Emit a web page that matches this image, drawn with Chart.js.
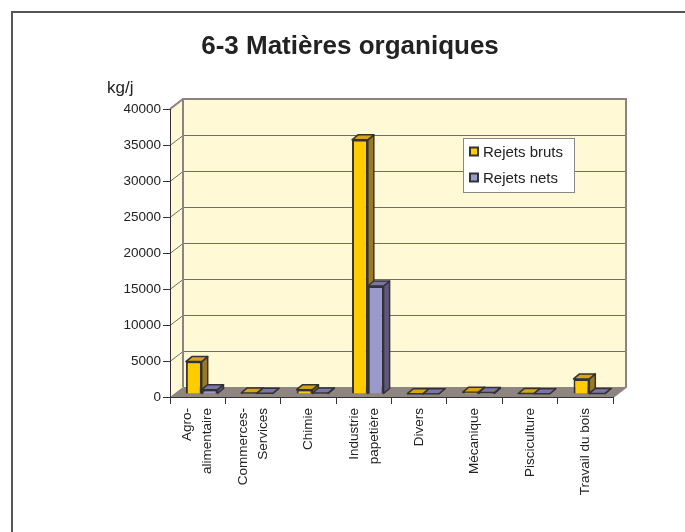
<!DOCTYPE html>
<html>
<head>
<meta charset="utf-8">
<script src="https://cdn.jsdelivr.net/npm/chart.js@4"></script>
<style>
  body { margin: 0; background: #fff; }
  canvas { display: block; }
</style>
</head>
<body>
<canvas id="chart" width="685" height="532"></canvas>
<script>
// données (kg/j)
const categories = [["Agro-", "alimentaire"], ["Commerces-", "Services"], "Chimie", ["Industrie", "papetière"], "Divers", "Mécanique", "Pisciculture", "Travail du bois"];
const rejetsBruts = [4500, 150, 600, 35300, 50, 250, 60, 2100];
const rejetsNets = [600, 100, 150, 15000, 30, 200, 40, 80];
const seriesNames = ["Rejets bruts", "Rejets nets"];
const yMax = 40000;
const yStep = 5000;

const fontFamily = "'Liberation Sans', Arial, sans-serif";

// couleurs des faces (avant, côté, dessus)
const faceColors = [
    { front: "#FFCC00", side: "#9C7A24", top: "#D6A514" },
    { front: "#9999CC", side: "#5F5782", top: "#7C74A8" }
];

// profondeur 3D
const wallDX = 13, wallDY = -10;
const barShiftX = 4, barShiftY = -3;
const barDX = 6, barDY = -5;

const threeD = {
    id: "threeD",
    beforeDraw(chart) {
        const ctx = chart.ctx;
        const a = chart.chartArea;
        const y = chart.scales.y;

        ctx.save();
        // cadre extérieur
        ctx.strokeStyle = "#555";
        ctx.lineWidth = 2;
        ctx.beginPath();
        ctx.moveTo(12, 540);
        ctx.lineTo(12, 12);
        ctx.lineTo(700, 12);
        ctx.stroke();

        // murs
        ctx.fillStyle = "#FFF9D6";
        ctx.beginPath();
        ctx.moveTo(a.left, a.top);
        ctx.lineTo(a.left + wallDX, a.top + wallDY);
        ctx.lineTo(a.right + wallDX, a.top + wallDY);
        ctx.lineTo(a.right + wallDX, a.bottom + wallDY);
        ctx.lineTo(a.left, a.bottom);
        ctx.closePath();
        ctx.fill();

        // sol
        ctx.fillStyle = "#8E8580";
        ctx.beginPath();
        ctx.moveTo(a.left, a.bottom);
        ctx.lineTo(a.left + wallDX, a.bottom + wallDY);
        ctx.lineTo(a.right + wallDX, a.bottom + wallDY);
        ctx.lineTo(a.right, a.bottom);
        ctx.closePath();
        ctx.fill();

        // quadrillage
        ctx.strokeStyle = "#6E6E6E";
        ctx.lineWidth = 1;
        for (let v = yStep; v < yMax; v += yStep) {
            const py = Math.round(y.getPixelForValue(v)) + 0.5;
            ctx.beginPath();
            ctx.moveTo(a.left, py);
            ctx.lineTo(a.left + wallDX, py + wallDY);
            ctx.lineTo(a.right + wallDX, py + wallDY);
            ctx.stroke();
        }

        // bords des murs
        ctx.strokeStyle = "#8C8280";
        ctx.lineWidth = 2;
        ctx.beginPath();
        ctx.moveTo(a.left, a.top);
        ctx.lineTo(a.left + wallDX, a.top + wallDY);
        ctx.lineTo(a.right + wallDX, a.top + wallDY);
        ctx.lineTo(a.right + wallDX, a.bottom + wallDY);
        ctx.lineTo(a.right, a.bottom);
        ctx.moveTo(a.left + wallDX, a.top + wallDY);
        ctx.lineTo(a.left + wallDX, a.bottom + wallDY);
        ctx.stroke();
        ctx.restore();
    },
    beforeDatasetsDraw(chart) {
        const ctx = chart.ctx;
        ctx.save();
        ctx.translate(barShiftX, barShiftY);
        // faces de côté et du dessus, dessinées avant les faces avant
        chart.data.datasets.forEach((ds, i) => {
            const meta = chart.getDatasetMeta(i);
            meta.data.forEach(bar => {
                const p = bar.getProps(["x", "y", "base", "width"], true);
                const l = p.x - p.width / 2, r = p.x + p.width / 2;
                ctx.strokeStyle = "#333";
                ctx.lineWidth = 1.5;
                ctx.lineJoin = "round";
                ctx.fillStyle = faceColors[i].side;
                ctx.beginPath();
                ctx.moveTo(r, p.y);
                ctx.lineTo(r + barDX, p.y + barDY);
                ctx.lineTo(r + barDX, p.base + barDY);
                ctx.lineTo(r, p.base);
                ctx.closePath();
                ctx.fill();
                ctx.stroke();
                ctx.fillStyle = faceColors[i].top;
                ctx.beginPath();
                ctx.moveTo(l, p.y);
                ctx.lineTo(l + barDX, p.y + barDY);
                ctx.lineTo(r + barDX, p.y + barDY);
                ctx.lineTo(r, p.y);
                ctx.closePath();
                ctx.fill();
                ctx.stroke();
            });
        });
    },
    afterDatasetsDraw(chart) {
        chart.ctx.restore();
    },
    afterDraw(chart) {
        const ctx = chart.ctx;
        const x = chart.scales.x;
        ctx.save();
        // titre
        ctx.fillStyle = "#222";
        ctx.font = "bold 26px " + fontFamily;
        ctx.textAlign = "center";
        ctx.textBaseline = "middle";
        ctx.fillText("6-3 Matières organiques", 350, 47);
        // unité
        ctx.font = "17px " + fontFamily;
        ctx.textAlign = "left";
        ctx.fillText("kg/j", 107, 88);

        // libellés des catégories, verticaux et centrés
        ctx.font = "13.5px " + fontFamily;
        ctx.textAlign = "right";
        categories.forEach((cat, i) => {
            const lines = Array.isArray(cat) ? cat : [cat];
            ctx.save();
            ctx.translate(x.getPixelForValue(i), 408);
            ctx.rotate(-Math.PI / 2);
            lines.forEach((line, j) => {
                ctx.fillText(line, 0, (j - (lines.length - 1) / 2) * 20);
            });
            ctx.restore();
        });

        // légende
        const lx = 463, ly = 138, lw = 111, lh = 54;
        ctx.fillStyle = "#fff";
        ctx.fillRect(lx, ly, lw, lh);
        ctx.strokeStyle = "#888";
        ctx.lineWidth = 1;
        ctx.strokeRect(lx + 0.5, ly + 0.5, lw, lh);
        ctx.font = "15px " + fontFamily;
        ctx.textAlign = "left";
        chart.data.datasets.forEach((ds, i) => {
            const cy = ly + 14 + i * 26;
            ctx.fillStyle = ds.backgroundColor;
            ctx.fillRect(lx + 7, cy - 4.5, 8, 8);
            ctx.strokeStyle = "#333";
            ctx.lineWidth = 2;
            ctx.strokeRect(lx + 7, cy - 4.5, 8, 8);
            ctx.fillStyle = "#222";
            ctx.fillText(ds.label, lx + 20, cy + 1);
        });
        ctx.restore();
    }
};

new Chart(document.getElementById("chart"), {
    type: "bar",
    data: {
        labels: categories,
        datasets: [
            {
                label: seriesNames[0],
                data: rejetsBruts,
                backgroundColor: faceColors[0].front,
                borderColor: "#333",
                borderWidth: 2
            },
            {
                label: seriesNames[1],
                data: rejetsNets,
                backgroundColor: faceColors[1].front,
                borderColor: "#333",
                borderWidth: 2
            }
        ]
    },
    options: {
        responsive: false,
        animation: false,
        layout: { padding: { left: 100, right: 72, top: 109, bottom: 15 } },
        datasets: { bar: { categoryPercentage: 0.57, barPercentage: 1 } },
        plugins: {
            legend: { display: false },
            title: { display: false },
            tooltip: { enabled: false }
        },
        scales: {
            x: {
                afterFit: scale => { scale.height = 120; },
                grid: { drawOnChartArea: false, drawTicks: true, tickLength: 7, color: "#333", offset: true },
                border: { display: true, color: "#333", width: 1 },
                ticks: { display: false }
            },
            y: {
                min: 0,
                max: yMax,
                afterFit: scale => { scale.width = 70; },
                grid: { drawOnChartArea: false, drawTicks: true, tickLength: 7, color: "#333" },
                border: { display: true, color: "#333", width: 1 },
                ticks: {
                    stepSize: yStep,
                    padding: 2,
                    color: "#222",
                    callback: value => String(value),
                    font: { family: fontFamily, size: 13.5 }
                }
            }
        }
    },
    plugins: [threeD]
});
</script>
</body>
</html>
